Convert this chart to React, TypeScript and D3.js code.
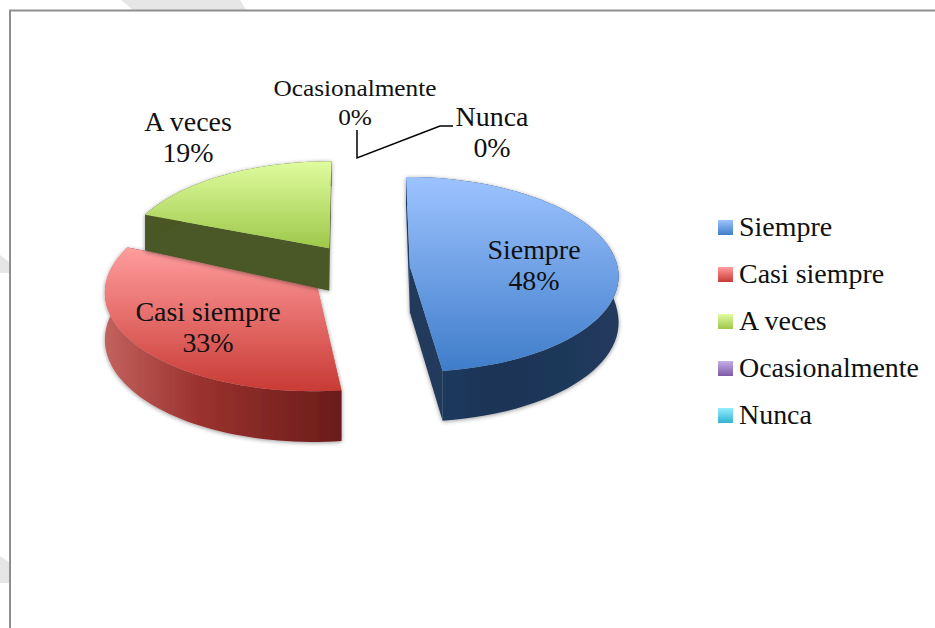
import * as d3 from "d3";

// values
const categories = ["Siempre", "Casi siempre", "A veces", "Ocasionalmente", "Nunca"];
const values = [48, 33, 19, 0, 0];
const percentLabels = ["48%", "33%", "19%", "0%", "0%"];

const topLight = ["#9dc3ff", "#ff9d9d", "#e0fc9f", "#c5aee8", "#94eefc"];
const topDark = ["#3f7dca", "#c93a35", "#9ec84a", "#7d5aa6", "#31b3d3"];
const wallLeft = ["#1d3c63", "#c2625e", "#4a5825", "#4a3563", "#1f6c80"];
const wallMid = ["#1c3456", "#9a322e", "#465323", "#4a3563", "#1f6c80"];
const wallRight = ["#213a5c", "#6a1c1a", "#44501f", "#4a3563", "#1f6c80"];

const labelAnchors = [
  { x: 534, y: 259 },
  { x: 208, y: 321 },
  { x: 188, y: 131 },
  { x: 355, y: 96 },
  { x: 492, y: 126 },
];
// the squeezed label is set smaller than the others
const labelSizes = [26.5, 26.5, 26.5, 24, 26.5];

const WIDTH = 935;
const HEIGHT = 628;
const CX = 358;
const CY = 268;
const RX = 208;
const RY = 97;
const TILT = 0.08; // perspective strength
const EXPLODE = 0.25;
const DEPTH = 46;
const STRETCH = 1.055; // the serif available is narrower than the original's

type Pt = [number, number];

// disc coordinates (u right, v away from the viewer) to the page
const project = (u: number, v: number): Pt => {
  const p = 1 / (1 + TILT * v);
  return [CX + RX * u * p, CY - RY * v * p];
};
const lowered = (u: number, v: number): Pt => {
  const p = 1 / (1 + TILT * v);
  const [x, y] = project(u, v);
  return [x, y + DEPTH * p - 14 * Math.max(0, v)];
};

const pieLayout = d3
  .pie<number>()
  .sort(null)
  .startAngle(0)
  .endAngle(2 * Math.PI);
const line = d3.line();

const Text = ({ x, y, size, anchor, children }: any) => (
  <text
    transform={`translate(${x},${y}) scale(${STRETCH},1)`}
    fontFamily="'Liberation Serif', serif"
    fontSize={size}
    textAnchor={anchor}
    fill="#111"
  >
    {children}
  </text>
);

export default function App() {
  const slices = pieLayout(values)
    .map((d, i) => ({ ...d, i }))
    .filter((d) => d.value > 0);

  const rows = d3
    .scalePoint<string>()
    .domain(categories)
    .range([228, 416]);

  return (
    <svg
      width={WIDTH}
      height={HEIGHT}
      style={{ position: "absolute", left: 0, top: 0, background: "#fff" }}
    >
      <defs>
        {categories.map((c, i) => (
          <linearGradient key={c} id={`top${i}`} x1="0" y1="0" x2="0" y2="1">
            <stop offset="0" stopColor={topLight[i]} />
            <stop offset="1" stopColor={topDark[i]} />
          </linearGradient>
        ))}
        {categories.map((c, i) => (
          <linearGradient key={c} id={`wall${i}`} x1="0" y1="0" x2="1" y2="0">
            <stop offset="0" stopColor={wallLeft[i]} />
            <stop offset="0.4" stopColor={wallMid[i]} />
            <stop offset="1" stopColor={wallRight[i]} />
          </linearGradient>
        ))}
        <filter id="soft" x="-10%" y="-10%" width="120%" height="120%">
          <feDropShadow dx="0" dy="1" stdDeviation="2" floodColor="#000" floodOpacity="0.4" />
        </filter>
      </defs>

      {/* watermark left behind the chart frame */}
      <g fill="#e6e6e6">
        <polygon points="121,0 240,0 246,10 133,10" />
        <polygon points="0,255 9,262 9,273 0,273" />
        <polygon points="0,556 9,562 9,583 0,583" />
      </g>
      <path d="M10,628V10.5H935" fill="none" stroke="#8e8e8e" strokeWidth="2" />

      {slices.map((d) => {
        const mid = (d.startAngle + d.endAngle) / 2;
        const ou = EXPLODE * Math.sin(mid);
        const ov = EXPLODE * Math.cos(mid);
        const angles = d3
          .range(0, 61)
          .map((t) => d.startAngle + ((d.endAngle - d.startAngle) * t) / 60);
        const rim = angles.map((a) => [ou + Math.sin(a), ov + Math.cos(a)] as Pt);
        const top: Pt[] = [[ou, ov] as Pt, ...rim].map(([u, v]) => project(u, v));
        const rimTop = rim.map(([u, v]) => project(u, v));
        const rimLow = rim.map(([u, v]) => lowered(u, v));
        const first = rim[0];
        const last = rim[rim.length - 1];
        const cutA: Pt[] = [
          project(ou, ov),
          project(first[0], first[1]),
          lowered(first[0], first[1]),
          lowered(ou, ov),
        ];
        const cutB: Pt[] = [
          project(ou, ov),
          project(last[0], last[1]),
          lowered(last[0], last[1]),
          lowered(ou, ov),
        ];
        return (
          <g key={d.i} filter="url(#soft)">
            <path d={line(cutA) + "Z"} fill={wallLeft[d.i]} />
            <path d={line(cutB) + "Z"} fill={wallRight[d.i]} />
            <path d={line([...rimTop, ...rimLow.reverse()]) + "Z"} fill={`url(#wall${d.i})`} />
            <path d={line(top) + "Z"} fill={`url(#top${d.i})`} />
          </g>
        );
      })}

      <g fill="none" stroke="#000" strokeWidth="1.5">
        <path d="M357,130V158L440,126H453" />
      </g>

      {categories.map((c, i) => (
        <g key={c}>
          <Text x={labelAnchors[i].x} y={labelAnchors[i].y} size={labelSizes[i]} anchor="middle">
            {c}
          </Text>
          <Text
            x={labelAnchors[i].x}
            y={labelAnchors[i].y + (i === 3 ? 29 : 31)}
            size={labelSizes[i]}
            anchor="middle"
          >
            {percentLabels[i]}
          </Text>
        </g>
      ))}

      {categories.map((c, i) => {
        const y = rows(c) as number;
        return (
          <g key={c}>
            <rect x={718} y={y - 8} width={15} height={15} fill={`url(#top${i})`} />
            <Text x={739} y={y + 8} size={26.5} anchor="start">
              {c}
            </Text>
          </g>
        );
      })}
    </svg>
  );
}
